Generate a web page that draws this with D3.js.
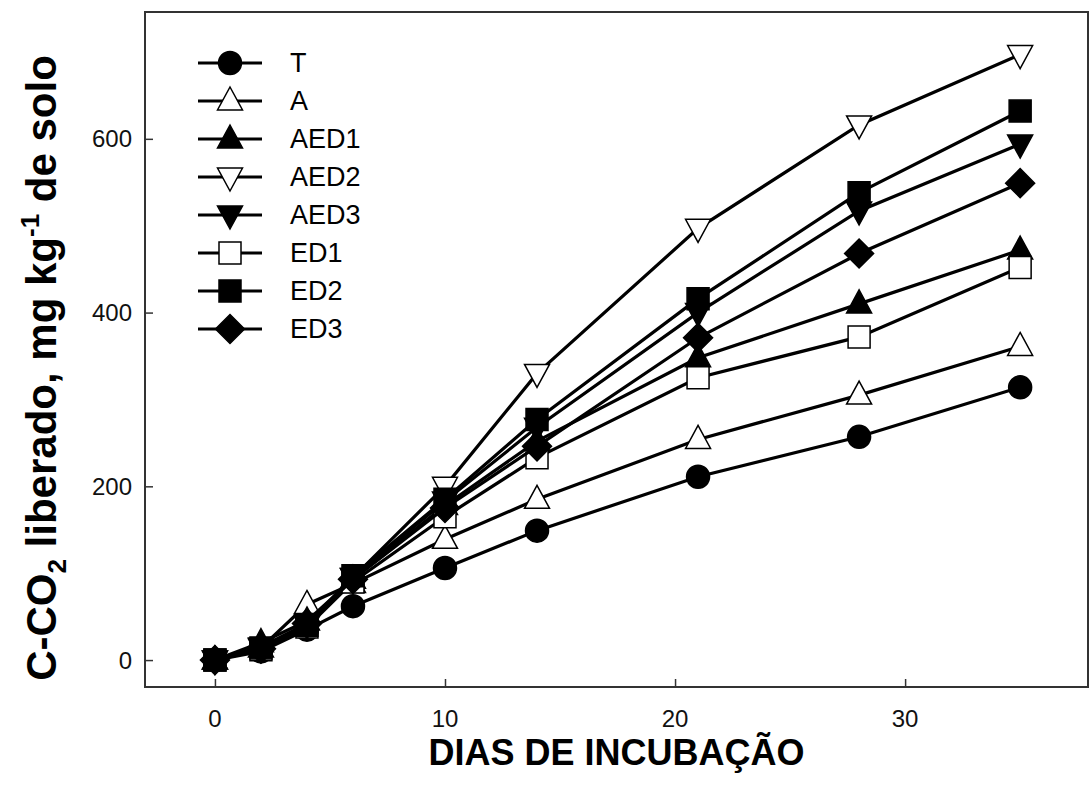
<!DOCTYPE html>
<html>
<head>
<meta charset="utf-8">
<script src="https://cdn.jsdelivr.net/npm/d3@7"></script>
<style>
  html, body { margin: 0; padding: 0; background: #fff; }
  svg { display: block; font-family: Arial, "Liberation Sans", sans-serif; }
</style>
</head>
<body>
<svg id="chart" width="1090" height="796"></svg>
<script>
// ---- data ----
const days = [0, 2, 4, 6, 10, 14, 21, 28, 35];
const seriesNames = ["T", "A", "AED1", "AED2", "AED3", "ED1", "ED2", "ED3"];
const T    = [0, 10, 35, 62, 106, 149, 211, 257, 314];
const A    = [0, 14, 64, 88, 139, 185, 254, 305, 361];
const AED1 = [0, 20, 45, 93, 178, 252, 348, 410, 472];
const AED2 = [0, 15, 42, 95, 200, 330, 497, 616, 697];
const AED3 = [0, 14, 40, 95, 183, 268, 400, 517, 594];
const ED1  = [0, 12, 38, 90, 165, 233, 325, 372, 452];
const ED2  = [0, 14, 40, 97, 185, 277, 416, 538, 632];
const ED3  = [0, 13, 42, 93, 175, 246, 371, 468, 549];
const xTicks = [0, 10, 20, 30];
const yTicks = [0, 200, 400, 600];

const seriesValues = { T, A, AED1, AED2, AED3, ED1, ED2, ED3 };
const markerOf = {
  T:    { shape: "circle",  fill: "#000" },
  A:    { shape: "triUp",   fill: "#fff" },
  AED1: { shape: "triUp",   fill: "#000" },
  AED2: { shape: "triDown", fill: "#fff" },
  AED3: { shape: "triDown", fill: "#000" },
  ED1:  { shape: "square",  fill: "#fff" },
  ED2:  { shape: "square",  fill: "#000" },
  ED3:  { shape: "diamond", fill: "#000" }
};

const svg = d3.select("#chart");
const pLeft = 145, pRight = 1088, pTop = 12, pBottom = 687;

const x = d3.scaleLinear().domain([-3.04, 37.95]).range([pLeft, pRight]);
const y = d3.scaleLinear().domain([-31, 746]).range([pBottom, pTop]);

function markerPath(shape) {
  const p = d3.path();
  if (shape === "circle") {
    p.arc(0, 0, 11.5, 0, 2 * Math.PI);
  } else if (shape === "square") {
    p.rect(-11, -11, 22, 22);
  } else if (shape === "triUp") {
    p.moveTo(0, -14); p.lineTo(12.5, 9); p.lineTo(-12.5, 9); p.closePath();
  } else if (shape === "triDown") {
    p.moveTo(0, 14); p.lineTo(12.5, -9); p.lineTo(-12.5, -9); p.closePath();
  } else if (shape === "diamond") {
    p.moveTo(0, -14.5); p.lineTo(14.5, 0); p.lineTo(0, 14.5); p.lineTo(-14.5, 0); p.closePath();
  }
  return p.toString();
}

// frame
svg.append("rect")
  .attr("x", pLeft).attr("y", pTop)
  .attr("width", pRight - pLeft).attr("height", pBottom - pTop)
  .attr("fill", "none").attr("stroke", "#333").attr("stroke-width", 2);

// axes (inward ticks)
const xAxis = d3.axisTop(x).tickValues(xTicks).tickSize(8).tickFormat("");
svg.append("g").attr("transform", `translate(0,${pBottom})`).call(xAxis)
  .call(g => g.select(".domain").remove())
  .call(g => g.selectAll("line").attr("stroke", "#333").attr("stroke-width", 1.5));
const yAxis = d3.axisRight(y).tickValues(yTicks).tickSize(8).tickFormat("");
svg.append("g").attr("transform", `translate(${pLeft},0)`).call(yAxis)
  .call(g => g.select(".domain").remove())
  .call(g => g.selectAll("line").attr("stroke", "#333").attr("stroke-width", 1.5));

// tick labels
svg.append("g").selectAll("text").data(xTicks).join("text")
  .attr("x", d => x(d)).attr("y", 718)
  .attr("text-anchor", "middle").attr("dominant-baseline", "central")
  .attr("font-size", 24).attr("fill", "#111").text(d => d);
svg.append("g").selectAll("text").data(yTicks).join("text")
  .attr("x", 132).attr("y", d => y(d))
  .attr("text-anchor", "end").attr("dominant-baseline", "central")
  .attr("font-size", 24).attr("fill", "#111").text(d => d);

// series
const line = d3.line().x((d, i) => x(days[i])).y(d => y(d));
seriesNames.forEach(name => {
  const vals = seriesValues[name];
  const m = markerOf[name];
  const g = svg.append("g");
  g.append("path").datum(vals).attr("d", line)
    .attr("fill", "none").attr("stroke", "#000").attr("stroke-width", 3.2);
  g.selectAll("path.mk").data(vals).join("path").attr("class", "mk")
    .attr("transform", (d, i) => `translate(${x(days[i])},${y(d)})`)
    .attr("d", markerPath(m.shape))
    .attr("fill", m.fill).attr("stroke", "#000").attr("stroke-width", 1.5);
});

// legend
const legStartY = 63, legStep = 38;
const leg = svg.append("g");
seriesNames.forEach((name, i) => {
  const cy = legStartY + i * legStep;
  const m = markerOf[name];
  leg.append("line").attr("x1", 198).attr("x2", 262).attr("y1", cy).attr("y2", cy)
    .attr("stroke", "#000").attr("stroke-width", 3.2);
  leg.append("path").attr("transform", `translate(230,${cy})`)
    .attr("d", markerPath(m.shape))
    .attr("fill", m.fill).attr("stroke", "#000").attr("stroke-width", 1.5);
  leg.append("text").attr("x", 290).attr("y", cy)
    .attr("dominant-baseline", "central").attr("font-size", 27).attr("fill", "#000")
    .text(name);
});

// axis titles
svg.append("text")
  .attr("x", (pLeft + pRight) / 2).attr("y", 752)
  .attr("text-anchor", "middle").attr("dominant-baseline", "central")
  .attr("font-size", 36).attr("font-weight", "bold").attr("fill", "#000")
  .text("DIAS DE INCUBAÇÃO");

const yt = svg.append("text")
  .attr("transform", "translate(56,368) rotate(-90)")
  .attr("text-anchor", "middle")
  .attr("font-size", 42).attr("font-weight", "bold").attr("fill", "#000");
yt.append("tspan").text("C-CO");
yt.append("tspan").attr("font-size", 26).attr("dy", 10).text("2");
yt.append("tspan").attr("dy", -10).text(" liberado, mg kg");
yt.append("tspan").attr("font-size", 26).attr("dy", -17).text("-1");
yt.append("tspan").attr("dy", 17).text(" de solo");
</script>
</body>
</html>
